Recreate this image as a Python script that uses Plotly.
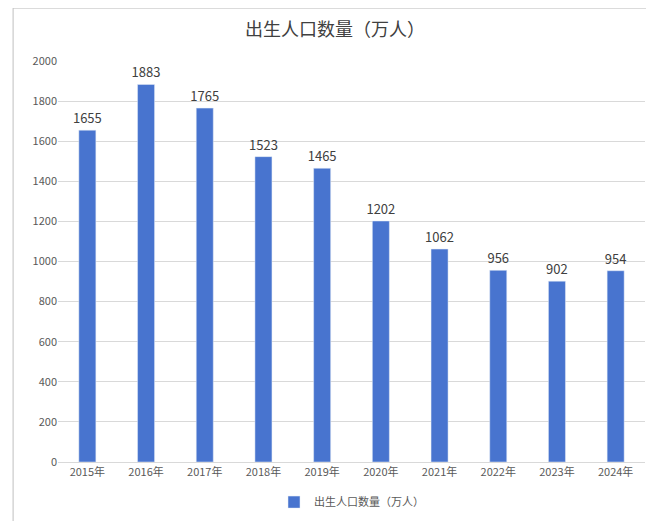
import plotly.graph_objects as go

years = ["2015年","2016年","2017年","2018年","2019年","2020年","2021年","2022年","2023年","2024年"]
births = [1655,1883,1765,1523,1465,1202,1062,956,902,954]
series_name = "出生人口数量（万人）"

font = "Noto Sans CJK SC"
fig = go.Figure(go.Bar(
    x=years, y=births, name=series_name, marker_color="#4874CF",
    text=[str(v) for v in births], textposition="outside", constraintext="none",
    textfont=dict(size=13, color="#404040", family=font), cliponaxis=False,
))
fig.update_layout(
    width=654, height=521,
    margin=dict(l=50, r=17, t=53, b=64),
    paper_bgcolor="white", plot_bgcolor="white",
    title=dict(text="出生人口数量（万人）", x=0.5, xanchor="center", y=0.958, yanchor="middle",
               font=dict(size=18, color="#404040", family=font)),
    bargap=0.71,
    showlegend=True,
    legend=dict(orientation="h", x=0.5, xanchor="center", y=-0.1, yanchor="middle",
                font=dict(size=11, color="#595959", family=font), itemwidth=30),
    uniformtext=dict(minsize=13, mode="show"),
    font=dict(family=font, color="#595959"),
    shapes=[dict(type="rect", xref="paper", yref="paper", x0=-0.0765, x1=1.026, y0=-0.156, y1=1.132,
                 line=dict(color="#BFBFBF", width=1))],
)
fig.update_yaxes(range=[0, 2000], dtick=200, gridcolor="#D9D9D9", zeroline=False, automargin=False,
                 tickfont=dict(size=11, color="#595959"), showline=False)
fig.update_xaxes(showline=True, linecolor="#D9D9D9", automargin=False, tickfont=dict(size=11, color="#595959"))
fig.write_html("out.html")
